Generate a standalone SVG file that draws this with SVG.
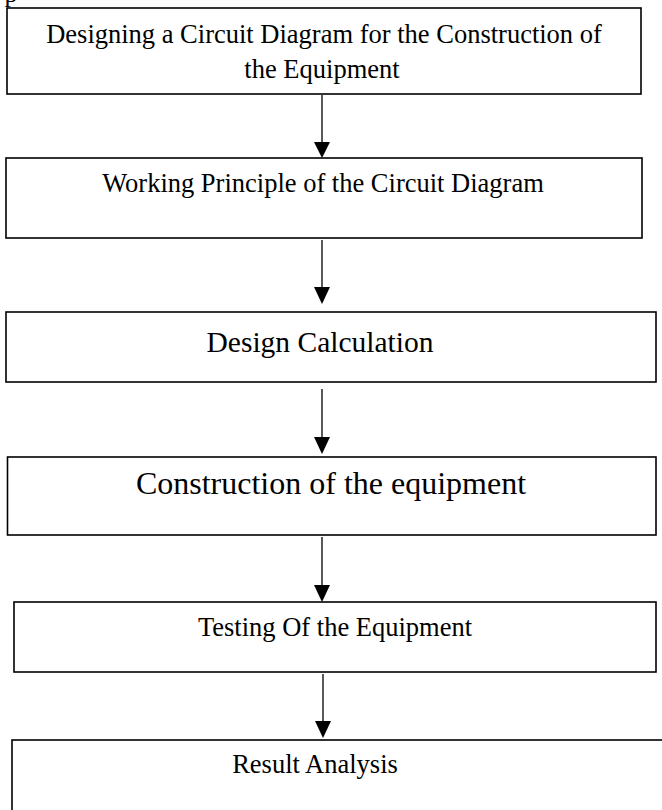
<svg xmlns="http://www.w3.org/2000/svg" width="662" height="810" viewBox="0 0 662 810">
<style>
.box{fill:#fff;stroke:#000;stroke-width:1.6}
.t{font-family:"Liberation Serif","Times New Roman",serif;fill:#000;text-anchor:middle}
.c{stroke:#000;stroke-width:1.3;fill:none}
</style>
<defs>
<marker id="ah" markerUnits="userSpaceOnUse" markerWidth="16" markerHeight="18" refX="8" refY="17" orient="auto-start-reverse" viewBox="0 0 16 18">
<path d="M0,0 L16,0 L8,18 Z" fill="#000" transform="rotate(0)"/>
</marker>
</defs>
<rect width="662" height="810" fill="#fff"/>
<text class="t" x="11" y="2" font-size="26">p</text>
<g id="n1">
<rect class="box" x="7" y="8" width="634" height="86"/>
<text class="t" x="324" y="43" font-size="26.5">Designing a Circuit Diagram for the Construction of</text>
<text class="t" x="322" y="78" font-size="26.5">the Equipment</text>
</g>
<g id="n2">
<rect class="box" x="6" y="158" width="636" height="80"/>
<text class="t" x="323" y="192" font-size="26.5">Working Principle of the Circuit Diagram</text>
</g>
<g id="n3">
<rect class="box" x="6" y="312" width="650" height="70"/>
<text class="t" x="320" y="352" font-size="29.5">Design Calculation</text>
</g>
<g id="n4">
<rect class="box" x="7.5" y="457" width="648.5" height="78"/>
<text class="t" x="331" y="494" font-size="32">Construction of the equipment</text>
</g>
<g id="n5">
<rect class="box" x="14" y="602" width="642" height="70"/>
<text class="t" x="335" y="636" font-size="26.5">Testing Of the Equipment</text>
</g>
<g id="n6">
<rect class="box" x="12" y="740" width="670" height="90"/>
<text class="t" x="315" y="773" font-size="26.5">Result Analysis</text>
</g>
<g id="connectors">
<path d="M0,0 L16,0 L8,18 Z" fill="none" stroke="none"/>
<line class="c" x1="322" y1="95" x2="322" y2="145"/>
<path d="M314,142 L330,142 L322,158 Z" fill="#000"/>
<line class="c" x1="322" y1="240" x2="322" y2="290"/>
<path d="M314,287 L330,287 L322,304 Z" fill="#000"/>
<line class="c" x1="322" y1="389" x2="322" y2="440"/>
<path d="M314,437 L330,437 L322,454 Z" fill="#000"/>
<line class="c" x1="322" y1="537" x2="322" y2="588"/>
<path d="M314,585 L330,585 L322,602 Z" fill="#000"/>
<line class="c" x1="323" y1="674" x2="323" y2="724"/>
<path d="M315,721 L331,721 L323,738 Z" fill="#000"/>
</g>
</svg>
